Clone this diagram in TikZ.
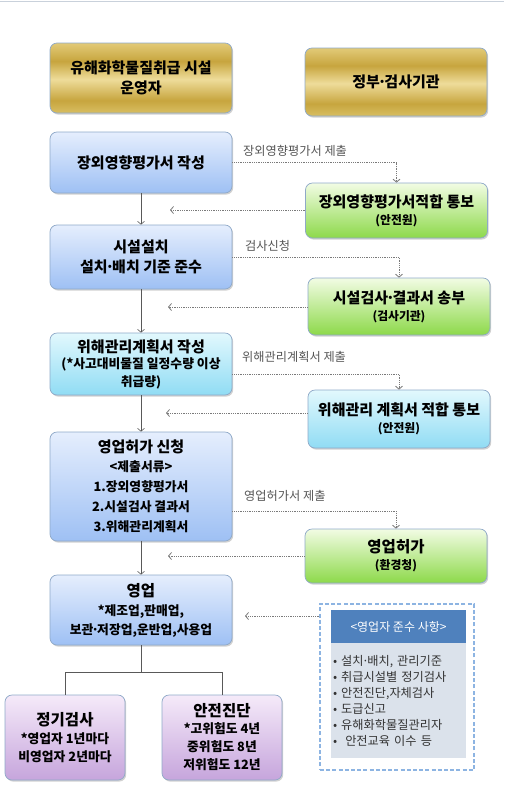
\documentclass[tikz,border=0pt]{standalone}
\usepackage{fontspec}
\setmainfont{Noto Sans CJK KR}
\usetikzlibrary{arrows.meta,shadows}
\definecolor{bordc}{HTML}{8FA9C8}
\definecolor{bluT}{HTML}{E5EEFD}
\definecolor{bluB}{HTML}{9EC0F4}
\definecolor{greT}{HTML}{F2FCE4}
\definecolor{greB}{HTML}{8DD94A}
\definecolor{cyaT}{HTML}{E2F8FD}
\definecolor{cyaB}{HTML}{90DCF4}
\definecolor{purT}{HTML}{F5EAF9}
\definecolor{purB}{HTML}{C6A5DC}
\definecolor{gA}{HTML}{D8BE62}
\definecolor{gB}{HTML}{C7A53E}
\definecolor{gC}{HTML}{EEDC9A}
\definecolor{gD}{HTML}{E2CA78}
\definecolor{dashc}{HTML}{8DB4E2}
\definecolor{hdrc}{HTML}{4F81BD}
\definecolor{bodyc}{HTML}{DBE2EB}
\definecolor{labc}{HTML}{555555}
\definecolor{dotc}{HTML}{7A7A7A}
\definecolor{topln}{HTML}{C9D1DB}
\pgfdeclareverticalshading{goldsh}{100bp}{color(0bp)=(gA); color(25bp)=(gA); color(34bp)=(gB); color(49bp)=(gC); color(62bp)=(gB); color(75bp)=(gD); color(100bp)=(gD)}
\newcommand\bigkr{\fontsize{15}{23}\selectfont}
\newcommand\smkr{\fontsize{12.8}{20}\selectfont}
\newcommand\subkr{\fontsize{11.8}{15}\selectfont}
\newcommand\md{\makebox[0.3em]{·}}
\tikzset{
  box/.style={rounded corners=7pt, draw=bordc, line width=0.7pt, align=center,
    text=black, font=\bfseries\smkr,
    drop shadow={shadow xshift=1.2pt, shadow yshift=-1.6pt, opacity=0.3, fill=black!60}},
  goldbox/.style={box, shading=goldsh, minimum width=182pt},
  bluebox/.style={box, top color=bluT, bottom color=bluB, minimum width=182pt},
  greenbox/.style={box, top color=greT, bottom color=greB, minimum width=182pt},
  cyanbox/.style={box, top color=cyaT, bottom color=cyaB, minimum width=182pt},
  purbox/.style={box, top color=purT, bottom color=purB, minimum width=120pt, minimum height=85pt},
  flow/.style={draw=black!65, line width=0.6pt, -{Straight Barb[length=3pt,width=7pt]}},
  dotflow/.style={draw=dotc, line width=0.8pt, densely dotted, -{Straight Barb[length=3pt,width=7pt]}},
  tree/.style={draw=black!65, line width=0.6pt},
  lab/.style={anchor=west, text=labc, font=\fontsize{12.2}{14}\selectfont, inner sep=0pt},
}
\begin{document}
\begin{tikzpicture}[x=1pt,y=-1pt]
\useasboundingbox (0,0) rectangle (504,788);
\draw[topln, line width=1.5pt] (0,1.5) -- (504,1.5);

% headers
\node[goldbox, minimum height=70pt] (HL) at (141,78) {\bigkr 유해화학물질취급 시설\\\bigkr 운영자};
\node[goldbox, minimum height=68pt] (HR) at (396,82) {\bigkr 정부\md 검사기관};

% left column
\node[bluebox, minimum height=61pt] (B1) at (141,162.5) {\bigkr 장외영향평가서 작성};
\node[bluebox, minimum height=64pt] (B2) at (141,257) {\bigkr 시설설치\\\bigkr 설치\md 배치 기준 준수};
\node[cyanbox, minimum height=62pt] (B3) at (141,364) {\bigkr 위해관리계획서 작성\\[-4pt](*사고대비물질 일정수량 이상\\[-2pt]취급량)};
\node[bluebox, minimum height=109pt] (B4) at (141,486.5) {\bigkr 영업허가 신청\\[-1pt]<제출서류>\\1.장외영향평가서\\2.시설검사 결과서\\3.위해관리계획서};
\node[bluebox, minimum height=70pt] (B5) at (141,610) {\fontsize{15.5}{20}\selectfont 영업\\[-1pt]*제조업,판매업,\\[-1pt]보관\md 저장업,운반업,사용업};

% right column
\node[greenbox, minimum height=55pt] (G1) at (396.5,210.5) {\bigkr 장외영향평가서적합 통보\\[-3pt]\subkr (안전원)};
\node[greenbox, minimum height=57pt] (G2) at (399,306.5) {\bigkr 시설검사\md 결과서 송부\\[-3pt]\subkr (검사기관)};
\node[cyanbox, minimum height=58pt] (G3) at (399,419) {\bigkr 위해관리 계획서 적합 통보\\[-3pt]\subkr (안전원)};
\node[greenbox, minimum height=54pt] (G4) at (396,556) {\fontsize{15.5}{20}\selectfont 영업허가\\[-3pt]\subkr (환경청)};

% bottom boxes
\node[purbox] (PL) at (65,737.5) {\fontsize{15.5}{20}\selectfont 정기검사\\[-2pt]*영업자 1년마다\\[-2pt]비영업자 2년마다};
\node[purbox] (PR) at (222,737.5) {\fontsize{15.5}{20}\selectfont 안전진단\\[-3pt]*고위험도 4년\\[-2pt]중위험도 8년\\[-2pt]저위험도 12년};

% compliance box
\node[draw=dashc, line width=1.6pt, dash pattern=on 4pt off 2.2pt, minimum width=154pt, minimum height=166pt] (DB) at (397,687) {};
\node[fill=hdrc, text=white, minimum width=135pt, minimum height=33pt, inner sep=0pt, font=\fontsize{12}{14}\selectfont] (DH) at (398.5,626.5) {<영업자 준수 사항>};
\node[fill=bodyc, text=black!80, minimum width=135pt, minimum height=115pt, text width=131pt, inner xsep=2pt, align=left, font=\fontsize{12.2}{16}\selectfont, anchor=north] (DBody) at (DH.south) {• 설치\md 배치, 관리기준\\• 취급시설별 정기검사\\• 안전진단,자체검사\\• 도급신고\\• 유해화학물질관리자\\•\ \ 안전교육 이수 등};

% coordinates for free ends
\coordinate (r1) at (170,210);
\coordinate (r2) at (168,307);
\coordinate (r3) at (166,413);
\coordinate (r4) at (168,556);
\coordinate (r5) at (245,616);
\coordinate (tj) at (141,672);

% main vertical flow
\draw[flow] (B1) -- (B2);
\draw[flow] (B2) -- (B3);
\draw[flow] (B3) -- (B4);
\draw[flow] (B4) -- (B5);

% submissions
\draw[dotflow] (B1.east) -| (G1.north);
\draw[dotflow] (B2.east) -| (G2.north);
\draw[dotflow] ([yshift=-10pt]B3.east) -| (G3.north);
\draw[dotflow] ([yshift=-24.5pt]B4.east) -| (G4.north);
\node[lab] (L1) at (243,151) {장외영향평가서 제출};
\node[lab] (L2) at (245,246) {검사신청};
\node[lab] (L3) at (242,357) {위해관리계획서 제출};
\node[lab] (L4) at (244,496) {영업허가서 제출};

% returns
\draw[dotflow] (r1 -| G1.west) -- (r1);
\draw[dotflow] (r2 -| G2.west) -- (r2);
\draw[dotflow] (r3 -| G3.west) -- (r3);
\draw[dotflow] (r4 -| G4.west) -- (r4);
\draw[dotflow] (r5 -| DB.west) -- (r5);

% tree
\draw[tree] (B5.south) -- (tj);
\draw[tree] (PL.north) |- (tj -| PR.north) -- (PR.north);
\end{tikzpicture}
\end{document}
